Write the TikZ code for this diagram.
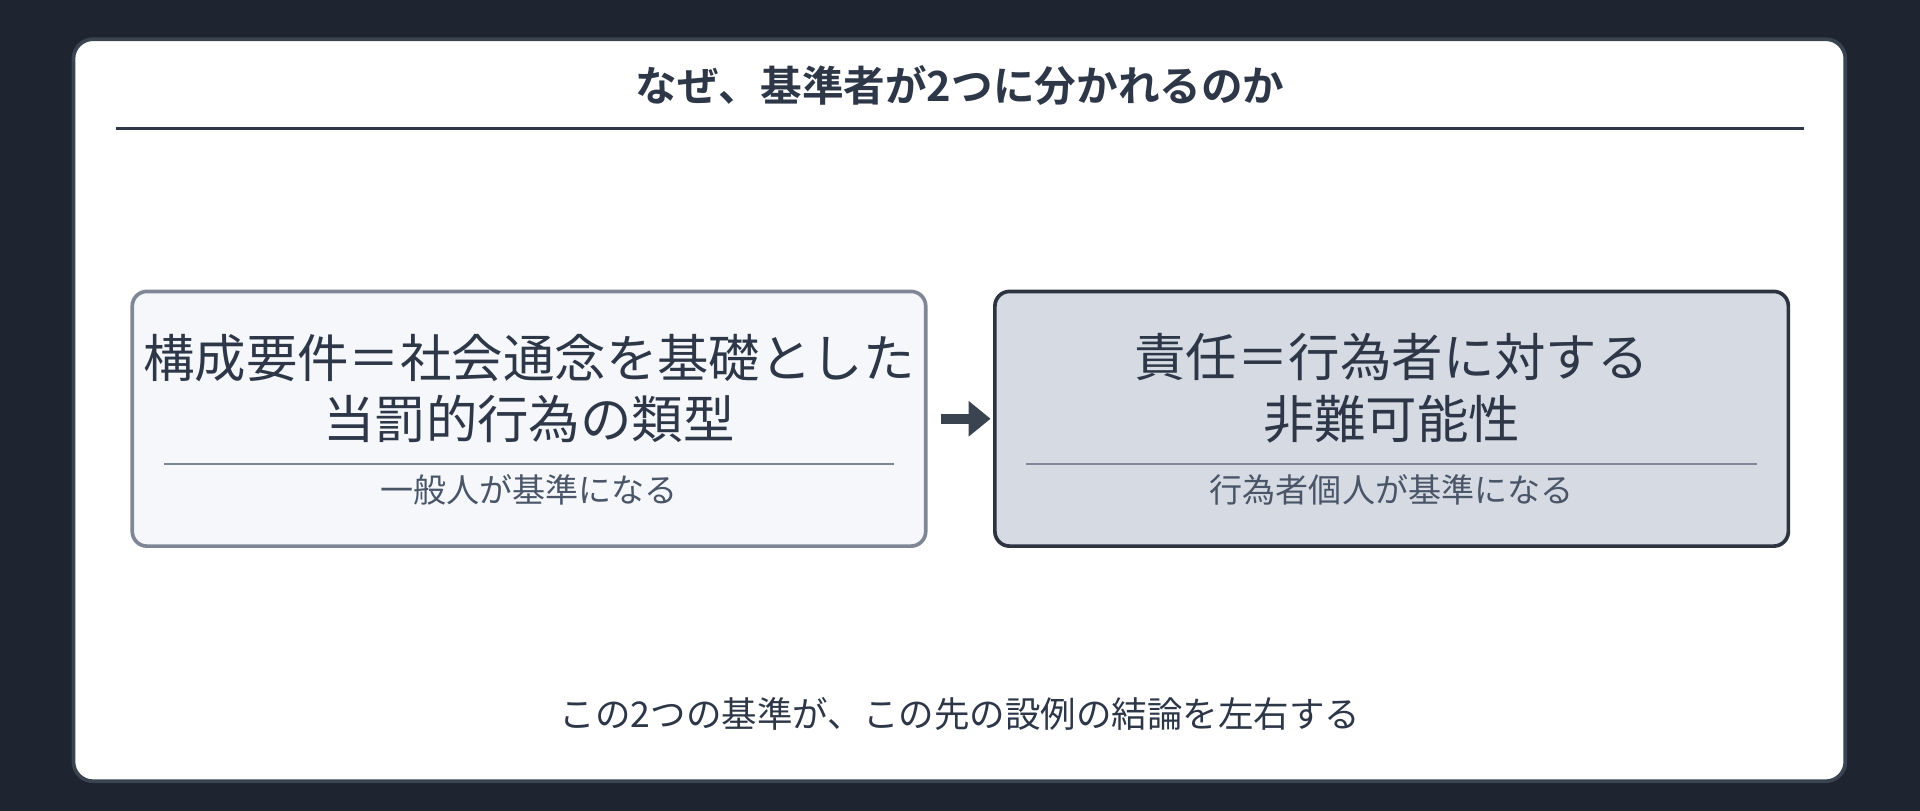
\documentclass[tikz,border=0pt]{standalone}
\usepackage{fontspec}
\setmainfont{Noto Sans CJK JP}[BoldFont=* Bold]
\usetikzlibrary{arrows.meta}
\definecolor{bg}{HTML}{1E2530}
\definecolor{cardb}{HTML}{3A4350}
\definecolor{ink}{HTML}{2D3748}
\definecolor{sub}{HTML}{4A5568}
\definecolor{lfill}{HTML}{F5F7FA}
\definecolor{lline}{HTML}{7F8797}
\definecolor{rfill}{HTML}{D5DAE3}
\definecolor{rline}{HTML}{2D3440}
\begin{document}
\begin{tikzpicture}[x=0.5pt,y=-0.5pt,
  box/.style={draw,line width=1.5pt,rounded corners=6pt,minimum width=324pt,minimum height=104pt,inner sep=0pt},
  main/.style={font=\fontsize{21}{25}\selectfont,text=ink,align=center},
  subt/.style={font=\fontsize{13.5}{16}\selectfont,text=sub},
  sep/.style={line width=0.8pt}]
\fill[bg] (0,0) rectangle (1568,662);
\node[draw=cardb,fill=white,line width=1.5pt,rounded corners=8pt,minimum width=723.5pt,minimum height=303pt,inner sep=0pt] (card) at (783.5,335) {};
\node[font=\bfseries\fontsize{17}{20}\selectfont,text=ink] (title) at (784,70) {なぜ、基準者が2つに分かれるのか};
\coordinate (r1) at (95,105); \coordinate (r2) at (1473,105);
\draw[ink,line width=1pt] (r1) -- (r2);
\node[box,draw=lline,fill=lfill] (L) at (432,342) {};
\node[box,draw=rline,fill=rfill] (R) at (1136.5,342) {};
\node[main] (Lt) at (432,317) {構成要件＝社会通念を基礎とした\\当罰的行為の類型};
\node[main] (Rt) at (1136.5,317) {責任＝行為者に対する\\非難可能性};
\coordinate (la) at (134,379); \coordinate (lb) at (730,379);
\coordinate (ra) at (838,379); \coordinate (rb) at (1435,379);
\draw[sep,lline] (la) -- (lb);
\draw[sep,lline] (ra) -- (rb);
\node[subt] (Ls) at (432,400) {一般人が基準になる};
\node[subt] (Rs) at (1136.5,400) {行為者個人が基準になる};
\draw[cardb,line width=4pt,-{Triangle[length=9pt,width=14pt]},shorten <=5.5pt,shorten >=1pt] (L.east) -- (R.west);
\node[font=\fontsize{14.5}{17}\selectfont,text=ink] (foot) at (784,583) {この2つの基準が、この先の設例の結論を左右する};
\end{tikzpicture}
\end{document}
